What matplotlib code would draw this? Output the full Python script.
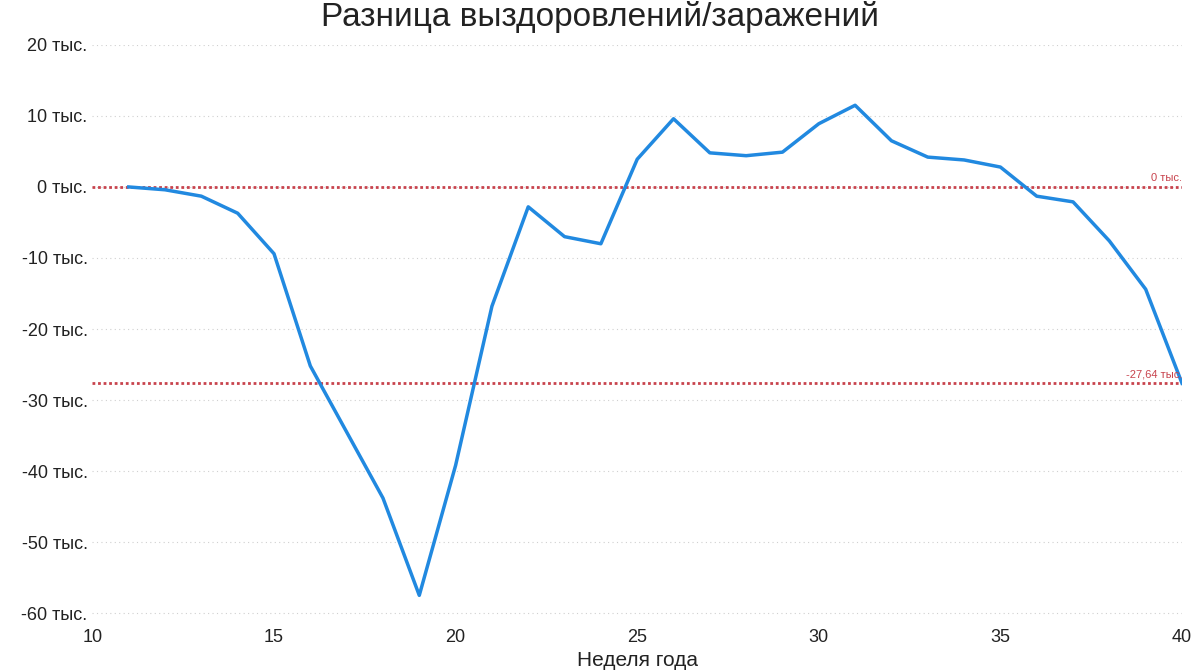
import matplotlib.pyplot as plt

plt.rcParams['font.family'] = ['Liberation Sans', 'DejaVu Sans']

weeks = list(range(11, 41))
diff = [0, -0.4, -1.3, -3.7, -9.4, -25.2, -34.5, -43.8, -57.5, -39.2,
        -16.8, -2.8, -7.0, -8.0, 3.9, 9.6, 4.8, 4.4, 4.9, 8.9,
        11.5, 6.5, 4.2, 3.8, 2.8, -1.3, -2.1, -7.6, -14.4, -27.64]
ref_lines = [0, -27.64]
ref_labels = ['0 тыс.', '-27,64 тыс.']
yticks = [20, 10, 0, -10, -20, -30, -40, -50, -60]

fig = plt.figure(figsize=(12, 6.7), dpi=100)
ax = fig.add_axes([0.077, 0.069, 0.908, 0.864])

for v in yticks:
    ax.axhline(v, color='#d0d0d0', lw=0.8, ls=(0, (1, 3)), zorder=0)
for v, lab in zip(ref_lines, ref_labels):
    ax.axhline(v, color='#c8434d', lw=2, ls=(0, (1, 1)), zorder=1)
    ax.text(40, v + 0.5, lab, color='#c8434d', fontsize=8, ha='right', va='bottom')

ax.plot(weeks, diff, color='#2189e0', lw=2.5, zorder=2)

ax.set_xlim(10, 40)
ax.set_ylim(-61.5, 20)
ax.set_xticks([10, 15, 20, 25, 30, 35, 40])
ax.set_yticks(yticks)
ax.set_yticklabels([f'{v} тыс.' for v in yticks])
ax.tick_params(length=0, labelsize=13, colors='#222222')
for s in ax.spines.values():
    s.set_visible(False)
ax.set_xlabel('Неделя года', fontsize=15, color='#222222', labelpad=4)
fig.suptitle('Разница выздоровлений/заражений', fontsize=24, y=0.998, color='#222222')

fig.savefig('out.png', dpi=100)
